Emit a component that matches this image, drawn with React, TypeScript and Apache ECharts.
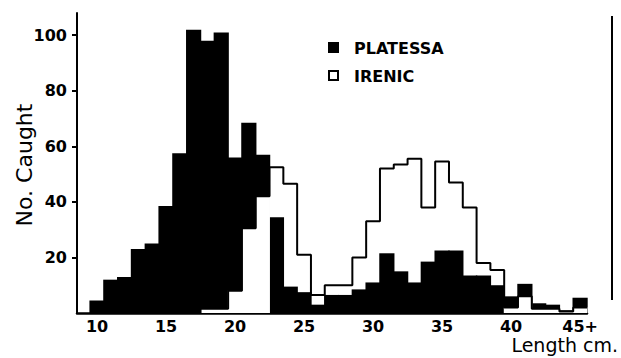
import React, { useEffect, useRef } from 'react';
import * as echarts from 'echarts';

// Length classes (cm); the last class is "45+"
const lengthClasses = [10, 11, 12, 13, 14, 15, 16, 17, 18, 19, 20, 21, 22, 23, 24, 25, 26, 27, 28, 29, 30, 31, 32, 33, 34, 35, 36, 37, 38, 39, 40, 41, 42, 43, 44, 45];
// Numbers caught, PLATESSA (black bars)
const platessa = [4.5, 12, 13, 23, 25, 38.5, 57.5, 102, 98, 101, 56, 68.5, 57, 34.5, 9.5, 7.5, 3, 6.5, 6.5, 8.5, 11, 21.5, 15, 11, 18.5, 22.5, 22.5, 13.5, 13.5, 10, 6, 10.5, 3.5, 3, 1, 5.5];
// Numbers caught, IRENIC (white, outlined histogram)
const irenic = [0, 0, 0, 0, 0, 0, 0, 0, 1.5, 1.5, 8, 30.5, 42, 52.5, 46.5, 21, 6.5, 10, 10, 20, 33, 52, 53.5, 55.5, 38, 54.5, 47, 38, 18, 15.5, 2, 6, 1.5, 1.5, 0.5, 2];

const xTicks = [10, 15, 20, 25, 30, 35, 40, 45];
const xTickLabels = ['10', '15', '20', '25', '30', '35', '40', '45+'];
const yTicks = [20, 40, 60, 80, 100];
const seriesNames = ['PLATESSA', 'IRENIC'];

const FONT = '"DejaVu Sans", sans-serif';

function makeRender(fill: string, pad: number) {
  return (params: any, api: any) => {
    const x = api.value(0) as number;
    const v = api.value(1) as number;
    const other = api.value(2) as number;
    if (!v) return null;
    const tl = api.coord([x - 0.5, v]);
    const br = api.coord([x + 0.5, 0]);
    return {
      type: 'rect',
      shape: { x: tl[0] - pad, y: tl[1], width: br[0] - tl[0] + 2 * pad, height: br[1] - tl[1] },
      style: { fill, lineWidth: 0 },
      z2: v <= other ? 20 : 10,
    };
  };
}

export default function App() {
  const ref = useRef<HTMLDivElement>(null);

  useEffect(() => {
    if (!ref.current) return;
    const chart = echarts.init(ref.current, null, { renderer: 'svg' });

    const platData = lengthClasses.map((c, i) => [c, platessa[i], irenic[i]]);
    const irenData = lengthClasses.map((c, i) => [c, irenic[i], platessa[i]]);
    const last = lengthClasses.length - 1;
    const outline = lengthClasses.map((c, i) => [c - 0.5, irenic[i]]);
    outline.push([lengthClasses[last] + 0.5, irenic[last]]);

    chart.setOption({
      animation: false,
      backgroundColor: '#fff',
      grid: { left: 77, right: 34, top: 13, bottom: 45, containLabel: false, outerBoundsMode: 'none' },
      xAxis: {
        type: 'value',
        min: 8.55,
        max: 45.5,
        axisLine: { show: true, lineStyle: { color: '#000', width: 2.5 } },
        axisTick: { show: false },
        splitLine: { show: false },
        axisLabel: {
          customValues: xTicks,
          formatter: (v: number) => xTickLabels[xTicks.indexOf(v)] ?? '',
          color: '#000',
          fontFamily: FONT,
          fontSize: 16,
          fontWeight: 'bold',
          margin: 5,
        },
      },
      yAxis: {
        type: 'value',
        min: 0,
        max: 108,
        interval: 20,
        axisLine: { show: true, lineStyle: { color: '#000', width: 2 } },
        axisTick: { show: true, customValues: yTicks, length: 5, lineStyle: { color: '#000', width: 2 } },
        splitLine: { show: false },
        axisLabel: {
          customValues: yTicks,
          color: '#000',
          fontFamily: FONT,
          fontSize: 16,
          fontWeight: 'bold',
          margin: 10,
        },
      },
      series: [
        {
          name: seriesNames[0],
          type: 'custom',
          data: platData,
          encode: { x: 0, y: 1 },
          renderItem: makeRender('#000', 0.7),
        },
        {
          name: seriesNames[1],
          type: 'custom',
          data: irenData,
          encode: { x: 0, y: 1 },
          renderItem: makeRender('#fff', 0.4),
        },
        {
          name: seriesNames[1] + ' outline',
          type: 'line',
          data: outline,
          step: 'end',
          symbol: 'none',
          z: 5,
          lineStyle: { color: '#000', width: 2 },
        },
      ],
      graphic: [
        { type: 'rect', shape: { x: 328, y: 42, width: 11, height: 11 }, style: { fill: '#000' } },
        { type: 'rect', shape: { x: 329, y: 71, width: 9, height: 9 }, style: { fill: '#fff', stroke: '#000', lineWidth: 2 } },
        {
          type: 'text', x: 354, y: 48,
          style: { text: seriesNames[0], fill: '#000', font: 'bold 16px ' + FONT, textAlign: 'left', textVerticalAlign: 'middle', align: 'left', verticalAlign: 'middle' },
        },
        {
          type: 'text', x: 354, y: 76,
          style: { text: seriesNames[1], fill: '#000', font: 'bold 16px ' + FONT, textAlign: 'left', textVerticalAlign: 'middle', align: 'left', verticalAlign: 'middle' },
        },
        {
          type: 'text', x: 24, y: 165, rotation: Math.PI / 2,
          style: { text: 'No. Caught', fill: '#000', font: '22px ' + FONT, textAlign: 'center', textVerticalAlign: 'middle', align: 'center', verticalAlign: 'middle' },
        },
        {
          type: 'text', x: 618, y: 345,
          style: { text: 'Length cm.', fill: '#000', font: '19px ' + FONT, textAlign: 'right', textVerticalAlign: 'middle', align: 'right', verticalAlign: 'middle' },
        },
        { type: 'line', shape: { x1: 612, y1: 16, x2: 612, y2: 300 }, style: { stroke: '#000', lineWidth: 2 } },
      ],
    });

    return () => chart.dispose();
  }, []);

  return <div ref={ref} style={{ position: 'fixed', left: 0, top: 0, width: 621, height: 358 }} />;
}
